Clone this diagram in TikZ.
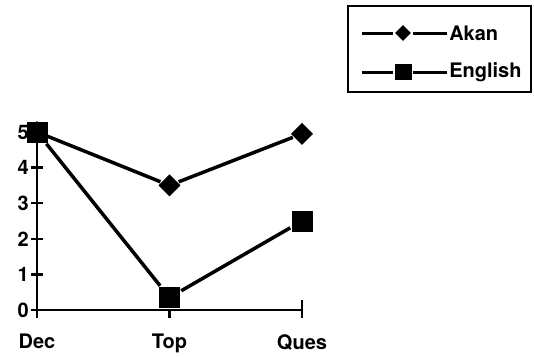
\documentclass[tikz,border=0pt]{standalone}
\usepackage{fontspec}
\setmainfont{TeX Gyre Heros}
\usetikzlibrary{shapes.geometric}

\tikzset{
  akanmark/.style={diamond, fill=black, inner sep=0pt, minimum width=23pt, minimum height=23pt},
  engmark/.style={rectangle, fill=black, inner sep=0pt, minimum width=21pt, minimum height=21pt},
  dataline/.style={line width=3.5pt},
  ticklabel/.style={font=\fontsize{20}{20}\selectfont\bfseries, inner sep=1pt},
  legendlabel/.style={font=\fontsize{20}{20}\selectfont\bfseries, inner sep=1pt, anchor=west}
}

\begin{document}
\begin{tikzpicture}[x=1pt, y=-1pt, line width=2.5pt]
            \useasboundingbox (0,0) rectangle (534,356);

            % legend box
            \draw (348,6) rectangle (531,92);
            \node[akanmark, minimum width=17pt, minimum height=17pt] (la) at (403,33) {};
            \node[engmark, minimum width=17pt, minimum height=16pt] (le) at (403,72) {};
            \coordinate (la1) at (362,33);
            \coordinate (la2) at (447,33);
            \coordinate (le1) at (362,72);
            \coordinate (le2) at (447,72);
            \draw[line width=3pt] (la1) -- (la) -- (la2);
            \draw[line width=3pt] (le1) -- (le) -- (le2);
            \node[legendlabel] (ta) at (la2) {Akan};
            \node[legendlabel] (te) at (le2) {English};

            \begin{scope}[shift={(37,310)}, x=132.5pt, y=35.6pt]
              % draw axes
              \coordinate (o) at (0,0);
              \coordinate (ytop) at (0,5.1);
              \coordinate (xend) at (2,0);
              \draw (o) -- (ytop);
              \draw (o) -- (xend);
              \foreach \v in {0,...,5} {
                \draw ([xshift=-6pt]0,\v) -- ([xshift=6pt]0,\v);
                \node[ticklabel, anchor=east] (yl\v) at ([xshift=-6pt]0,\v) {\v};
              }
              \foreach \c/\t in {0/Dec,1/Top,2/Ques} {
                \draw ([yshift=-8pt]\c,0) -- ([yshift=(\c>1)*10pt]\c,0);
                \node[ticklabel, anchor=north] (xl\c) at ([yshift=-22pt]\c,0) {\t};
              }

              % data points
              \node[akanmark] (a1) at (0,5) {};
              \node[akanmark] (a2) at (1,3.5) {};
              \node[akanmark] (a3) at (2,4.95) {};
              \node[engmark] (e1) at (0,5) {};
              \node[engmark] (e2) at (1,0.35) {};
              \node[engmark] (e3) at (2,2.5) {};
              \draw[dataline] (a1) -- (a2) -- (a3);
              \draw[dataline] (e1) -- (e2) -- (e3);
            \end{scope}
        \end{tikzpicture}
\end{document}
